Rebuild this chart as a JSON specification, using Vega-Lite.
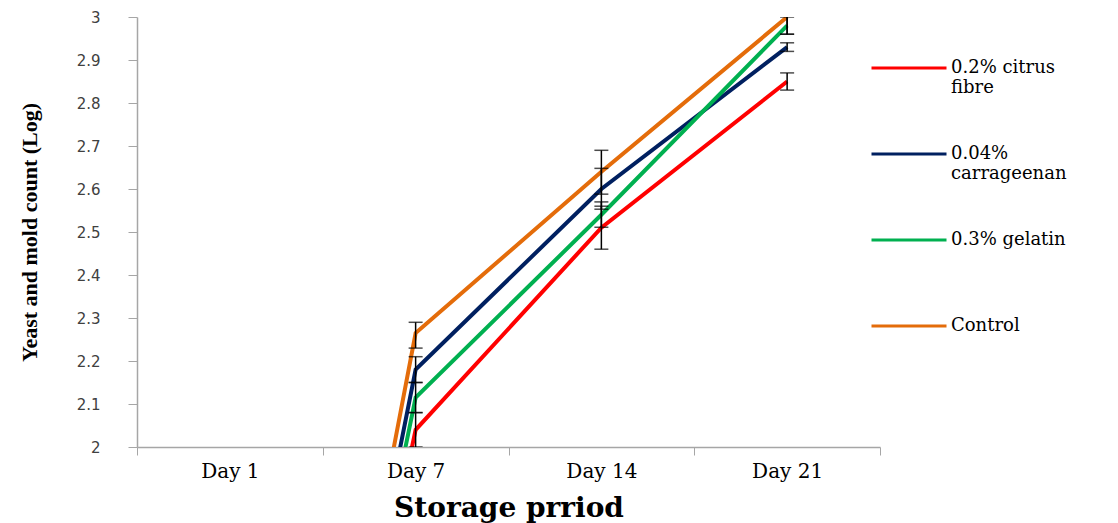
{
  "$schema": "https://vega.github.io/schema/vega-lite/v6.json",
  "width": 743,
  "height": 430,
  "autosize": {"type": "none"},
  "padding": {"left": 137, "top": 17, "right": 238, "bottom": 76},
  "background": "white",
  "config": {
    "view": {"stroke": null},
    "legend": {"labelFont": "DejaVu Serif"}
  },
  "data": {
    "values": [
      {"day": "Day 1", "group": "0.2% citrus fibre", "value": 0, "lo": null, "hi": null},
      {"day": "Day 7", "group": "0.2% citrus fibre", "value": 2.04, "lo": 2.0, "hi": 2.08},
      {"day": "Day 14", "group": "0.2% citrus fibre", "value": 2.51, "lo": 2.46, "hi": 2.56},
      {"day": "Day 21", "group": "0.2% citrus fibre", "value": 2.85, "lo": 2.83, "hi": 2.87},
      {"day": "Day 1", "group": "0.04% carrageenan", "value": 0, "lo": null, "hi": null},
      {"day": "Day 7", "group": "0.04% carrageenan", "value": 2.18, "lo": 2.15, "hi": 2.21},
      {"day": "Day 14", "group": "0.04% carrageenan", "value": 2.6, "lo": 2.553, "hi": 2.648},
      {"day": "Day 21", "group": "0.04% carrageenan", "value": 2.93, "lo": 2.92, "hi": 2.94},
      {"day": "Day 1", "group": "0.3% gelatin", "value": 0, "lo": null, "hi": null},
      {"day": "Day 7", "group": "0.3% gelatin", "value": 2.115, "lo": 2.08, "hi": 2.15},
      {"day": "Day 14", "group": "0.3% gelatin", "value": 2.54, "lo": 2.511, "hi": 2.57},
      {"day": "Day 21", "group": "0.3% gelatin", "value": 2.98, "lo": 2.96, "hi": 3.0},
      {"day": "Day 1", "group": "Control", "value": 0, "lo": null, "hi": null},
      {"day": "Day 7", "group": "Control", "value": 2.265, "lo": 2.23, "hi": 2.29},
      {"day": "Day 14", "group": "Control", "value": 2.64, "lo": 2.588, "hi": 2.69},
      {"day": "Day 21", "group": "Control", "value": 3.0, "lo": 2.96, "hi": 3.04}
    ]
  },
  "encoding": {
    "x": {
      "field": "day",
      "type": "ordinal",
      "sort": ["Day 1", "Day 7", "Day 14", "Day 21"],
      "scale": {"paddingInner": 0, "paddingOuter": 0},
      "axis": {
        "title": "Storage prriod",
        "titleFont": "DejaVu Serif",
        "titleFontSize": 28,
        "titleFontWeight": "bold",
        "titleColor": "black",
        "titlePadding": 13,
        "labelFont": "DejaVu Serif",
        "labelFontSize": 20,
        "labelColor": "black",
        "labelAngle": 0,
        "labelPadding": 6,
        "tickBand": "extent",
        "tickSize": 8,
        "tickColor": "#A6A6A6",
        "domainColor": "#A6A6A6",
        "domainWidth": 1.5,
        "grid": false
      }
    }
  },
  "layer": [
    {
      "mark": {"type": "line", "strokeWidth": 4, "clip": true},
      "encoding": {
        "y": {
          "field": "value",
          "type": "quantitative",
          "scale": {"domain": [2, 3], "nice": false, "zero": false},
          "axis": {
            "title": "Yeast and mold count (Log)",
            "titleFont": "Liberation Serif",
            "titleFontSize": 22,
            "titleFontWeight": "bold",
            "titleColor": "black",
            "titlePadding": 35,
            "values": [2, 2.1, 2.2, 2.3, 2.4, 2.5, 2.6, 2.7, 2.8, 2.9, 3],
            "format": "~g",
            "labelFont": "DejaVu Sans",
            "labelFontSize": 15,
            "labelColor": "#404040",
            "labelPadding": 28,
            "tickSize": 9,
            "tickColor": "#A6A6A6",
            "domainColor": "#A6A6A6",
            "domainWidth": 1.5,
            "grid": false
          }
        },
        "color": {
          "field": "group",
          "type": "nominal",
          "scale": {
            "domain": ["0.2% citrus fibre", "0.04% carrageenan", "0.3% gelatin", "Control"],
            "range": ["#FF0000", "#002060", "#00B050", "#E46C0A"]
          },
          "legend": {
            "orient": "none",
            "legendX": 733,
            "legendY": 12,
            "title": null,
            "padding": 0,
            "symbolType": "stroke",
            "symbolSize": 5625,
            "symbolStrokeWidth": 3,
            "labelFont": "DejaVu Serif",
            "labelFontSize": 18,
            "labelColor": "black",
            "labelOffset": 3,
            "labelLimit": 300,
            "rowPadding": 18,
            "labelExpr": "datum.label == '0.2% citrus fibre' ? ['0.2% citrus', 'fibre'] : datum.label == '0.04% carrageenan' ? ['0.04%', 'carrageenan'] : [datum.label, '']"
          }
        }
      }
    },
    {
      "mark": {"type": "rule", "color": "black", "strokeWidth": 1.5, "clip": true},
      "encoding": {
        "y": {"field": "lo", "type": "quantitative"},
        "y2": {"field": "hi"}
      }
    },
    {
      "mark": {"type": "tick", "color": "black", "size": 14, "thickness": 1.5, "clip": true},
      "encoding": {"y": {"field": "lo", "type": "quantitative"}}
    },
    {
      "mark": {"type": "tick", "color": "black", "size": 14, "thickness": 1.5, "clip": true},
      "encoding": {"y": {"field": "hi", "type": "quantitative"}}
    }
  ]
}
